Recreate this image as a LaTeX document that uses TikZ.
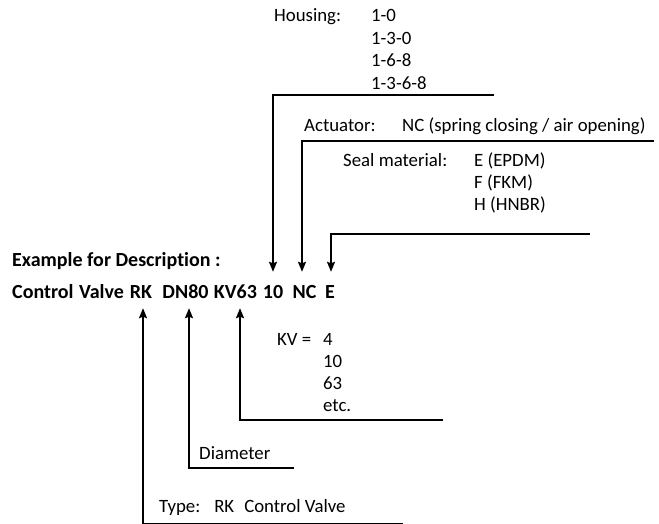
\documentclass[tikz,border=0pt]{standalone}
\usepackage{fontspec}
\setmainfont{Carlito}[Ligatures=NoCommon]
\usetikzlibrary{arrows.meta}

\begin{document}
\begin{tikzpicture}[
        x=1pt, y=-1pt,
        >={Stealth[length=10pt, width=8pt, inset=1.5pt]},
        font=\fontsize{18.8}{22}\selectfont,
        lbl/.style={anchor=base west, inner sep=0pt},
        boldlbl/.style={lbl, font=\fontsize{20}{22}\selectfont\bfseries},
        code/.style={anchor=base, inner sep=0pt, text height=26pt, text depth=10pt, font=\fontsize{20}{22}\selectfont\bfseries},
        lead/.style={line width=1.8pt},
    ]
    \useasboundingbox (0,0) rectangle (659,524);

    % Code line
    \node[boldlbl] (example) at (12,266) {Example for Description :};
    \node[boldlbl] (valve) at (12,298) {Control\hspace{1pt} Valve};
    \node[code] (rk) at (141,298) {RK};
    \node[code] (dn) at (185.5,298) {DN80};
    \node[code] (kv) at (235.5,298) {KV63};
    \node[code] (hs) at (273,298) {10};
    \node[code] (nc) at (304.5,298) {NC};
    \node[code] (se) at (330,298) {E};

    % Labels above
    \node[lbl] (housing) at (274,22) {Housing:};
    \foreach \v [count=\i] in {1-0,1-3-0,1-6-8,1-3-6-8}
        \node[lbl] (hs\i) at (371,22+22.5*\i-22.5) {\v};
    \node[lbl] (actuator) at (304,132) {Actuator:};
    \node[lbl] (ncval) at (402,132) {NC (spring closing / air opening)};
    \node[lbl] (seal) at (343,167) {Seal material:};
    \foreach \v [count=\i] in {E (EPDM),F (FKM),H (HNBR)}
        \node[lbl] (se\i) at (474,167+22*\i-22) {\v};

    % Labels below
    \node[lbl] (kvlbl) at (277,345) {KV =};
    \foreach \v [count=\i] in {4,10,63,etc.}
        \node[lbl] (kv\i) at (323,345+22*\i-22) {\v};
    \node[lbl] (diameter) at (199,459) {Diameter};
    \node[lbl] (type) at (159,512) {Type:\hspace{14pt}RK\hspace{10pt}Control Valve};

    % Corners
    \coordinate (hsc) at (273,95);   \coordinate (hse) at (494,95);
    \coordinate (ncc) at (302,141);  \coordinate (nce) at (654,141);
    \coordinate (sec) at (331,234);  \coordinate (see) at (590,234);
    \coordinate (kvc) at (240,420);  \coordinate (kve) at (443,420);
    \coordinate (dnc) at (189,468);  \coordinate (dne) at (294,468);
    \coordinate (rkc) at (143,524);  \coordinate (rke) at (403,524);

    % Leaders
    \draw[lead, ->] (hse) -- (hsc) -- (hsc |- hs.north);
    \draw[lead, ->] (nce) -- (ncc) -- (ncc |- nc.north);
    \draw[lead, ->] (see) -- (sec) -- (sec |- se.north);
    \draw[lead, ->] (kve) -- (kvc) -- (kvc |- kv.south);
    \draw[lead, ->] (dne) -- (dnc) -- (dnc |- dn.south);
    \draw[lead, ->] (rke) -- (rkc) -- (rkc |- rk.south);

\end{tikzpicture}
\end{document}
